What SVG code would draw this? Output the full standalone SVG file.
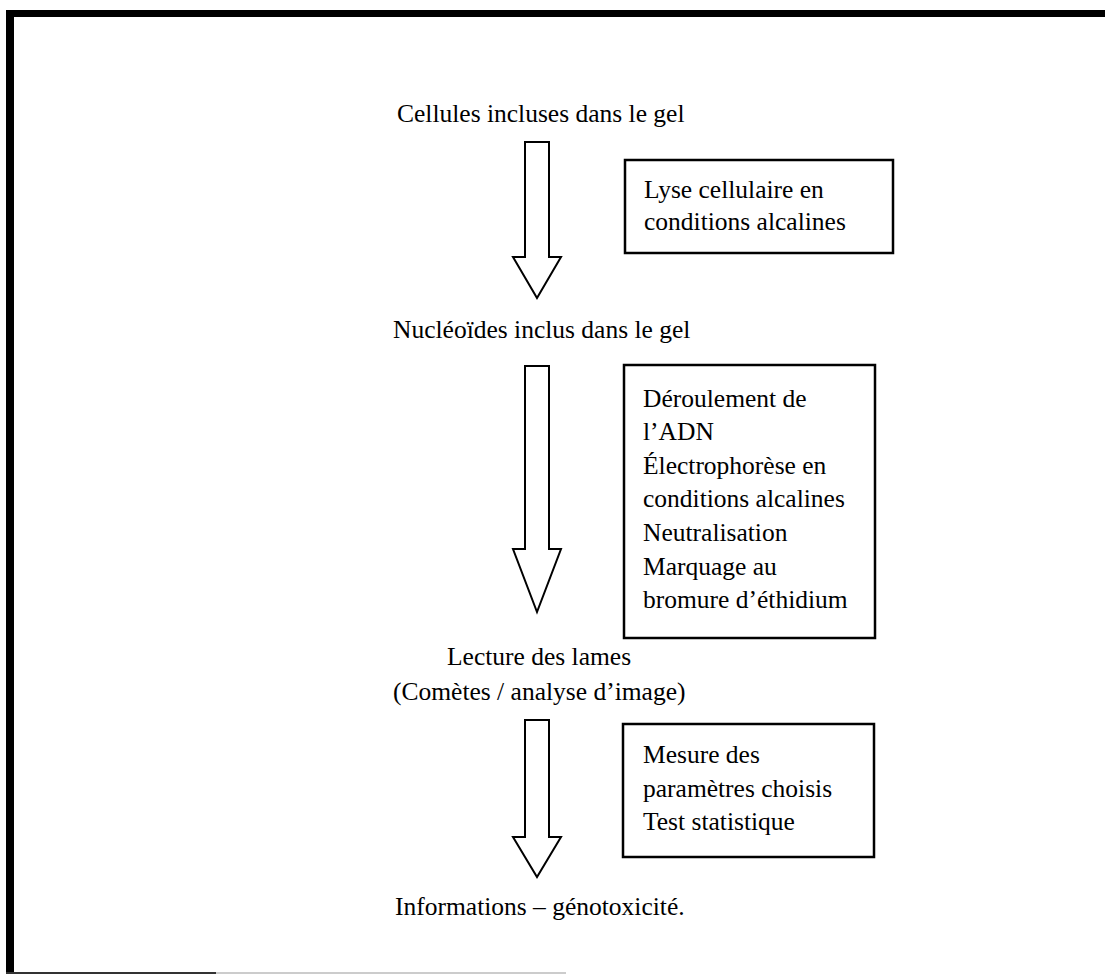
<svg xmlns="http://www.w3.org/2000/svg" width="1105" height="974" viewBox="0 0 1105 974">
<style>
text{font-family:'Liberation Serif','Times New Roman','DejaVu Serif',serif;font-size:25.5px;fill:#000}
.box{fill:#fff;stroke:#000;stroke-width:2.5}
.arrow{fill:#fff;stroke:#000;stroke-width:2;stroke-linejoin:miter}
</style>
<rect width="1105" height="974" fill="#fff"/>
<g id="frame">
<rect x="7" y="10" width="1098" height="7" fill="#000"/>
<rect x="6" y="10" width="8" height="964" fill="#000"/>
<rect x="6" y="972" width="210" height="2" fill="#333"/>
<rect x="216" y="972" width="350" height="2" fill="#ccc"/>
</g>
<g id="connectors">
<polygon class="arrow" points="525,142 549,142 549,257 561,257 537,298 513,257 525,257"/>
<polygon class="arrow" points="525,366 549,366 549,549 561,549 537,612 513,549 525,549"/>
<polygon class="arrow" points="525,720 549,720 549,837 561,837 537,877 513,837 525,837"/>
</g>
<g font-family="Liberation Serif, serif">
<g id="n1"><text x="397" y="122">Cellules incluses dans le gel</text></g>
<g id="n2"><text x="393" y="338">Nucléoïdes inclus dans le gel</text></g>
<g id="n3"><text x="447" y="665">Lecture des lames</text><text x="393" y="700">(Comètes / analyse d’image)</text></g>
<g id="n4"><text x="395" y="915">Informations – génotoxicité.</text></g>
<g id="b1"><rect class="box" x="625" y="160" width="268" height="93"/>
<text x="644" y="198">Lyse cellulaire en</text><text x="644" y="230">conditions alcalines</text></g>
<g id="b2"><rect class="box" x="624" y="365" width="251" height="273"/>
<text x="643" y="407">Déroulement de</text>
<text x="643" y="440">l’ADN</text>
<text x="643" y="474">Électrophorèse en</text>
<text x="643" y="507">conditions alcalines</text>
<text x="643" y="541">Neutralisation</text>
<text x="643" y="575">Marquage au</text>
<text x="643" y="608">bromure d’éthidium</text></g>
<g id="b3"><rect class="box" x="623" y="724" width="251" height="133"/>
<text x="643" y="763">Mesure des</text>
<text x="643" y="797">paramètres choisis</text>
<text x="643" y="830">Test statistique</text></g>
</g>
</svg>
